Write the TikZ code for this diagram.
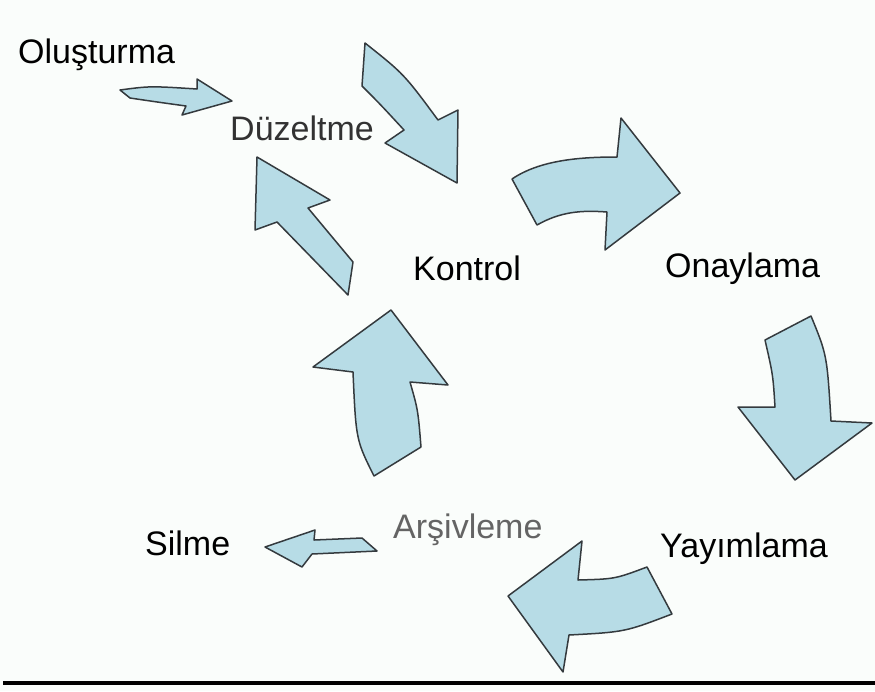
\documentclass[tikz,border=0pt]{standalone}
\usepackage{fontspec}
\setmainfont{Liberation Sans}
\usetikzlibrary{positioning}
\definecolor{arrfill}{RGB}{183,220,230}
\definecolor{arrline}{RGB}{52,58,62}
\definecolor{paper}{RGB}{250,253,251}
\definecolor{lgray}{RGB}{50,50,50}
\definecolor{mgray}{RGB}{100,100,100}

\begin{document}
\begin{tikzpicture}[
  x=1pt, y=-1pt,
  blockarr/.style={fill=arrfill, draw=arrline, line width=1.5pt, line join=round},
  lab/.style={font=\fontsize{34}{40}\selectfont, anchor=base west, inner sep=0pt, text=black}
]
\fill[paper] (0,0) rectangle (875,691);
\useasboundingbox (0,0) rectangle (875,691);

% ---------------- STAGES ----------------
\node (olus)  at (18,63)   [lab] {Oluşturma};
\node (duz)   at (230,140) [lab, text=lgray] {Düzeltme};
\node (kon)   at (413,280) [lab] {Kontrol};
\node (ona)   at (665,277) [lab] {Onaylama};
\node (yay)   at (660,557) [lab] {Yayımlama};
\node (arsiv) at (393,538) [lab, text=mgray] {Arşivleme};
\node (sil)   at (145,555) [lab] {Silme};

% ---------------- BLOCK ARROWS ----------------
% Olusturma -> Duzeltme
\draw[blockarr] (120,90) .. controls (150,86) .. (197,89) -- (197,79) -- (232,101)
  -- (182,115) -- (186,106) .. controls (157,102) .. (130,98) -- cycle;
% Duzeltme -> Kontrol
\draw[blockarr] (365,43) .. controls (404,74) .. (438,120) -- (458,110) -- (457,183)
  -- (385,143) -- (404,130) .. controls (380,104) .. (362,86) -- cycle;
% Kontrol -> Duzeltme
\draw[blockarr] (257,157) -- (330,200) -- (308,208) -- (353,262) -- (348,295)
  -- (277,222) -- (255,230) -- cycle;
% Kontrol -> Onaylama
\draw[blockarr] (512,179) .. controls (540,160) and (580,157) .. (617,157) -- (621,118)
  -- (680,193) -- (605,250) -- (607,212) .. controls (580,210) and (560,212) .. (537,225) -- cycle;
% Onaylama -> Yayimlama
\draw[blockarr] (765,340) -- (811,316) .. controls (827,355) .. (831,421) -- (872,423)
  -- (795,480) -- (738,407) -- (775,407) .. controls (773,375) .. (765,340) -- cycle;
% Yayimlama -> Arsivleme
\draw[blockarr] (582,541) -- (578,580) .. controls (615,579) .. (647,567) -- (672,614)
  .. controls (625,632) .. (569,635) -- (563,672) -- (508,596) -- cycle;
% Arsivleme -> Kontrol
\draw[blockarr] (391,310) -- (448,385) -- (410,382) .. controls (418,410) .. (421,447)
  -- (374,476) .. controls (356,440) .. (353,372) -- (313,367) -- cycle;
% Arsivleme -> Silme
\draw[blockarr] (265,547) -- (315,530) -- (314,540) -- (362,538) -- (377,551)
  -- (312,554) -- (302,567) -- cycle;

% ---------------- RULE ----------------
\draw[line width=3.5pt] (3,683) -- (875,683);

\end{tikzpicture}
\end{document}
